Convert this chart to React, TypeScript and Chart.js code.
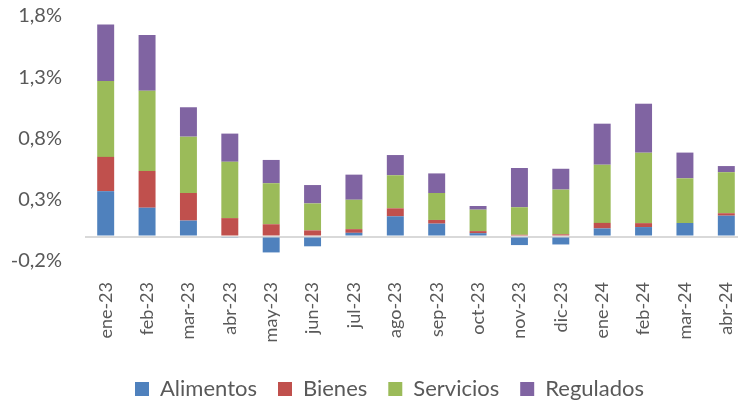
import React, { useEffect, useRef } from 'react';
import { Chart, registerables } from 'chart.js';

Chart.register(...registerables);

const categories = ['ene-23', 'feb-23', 'mar-23', 'abr-23', 'may-23', 'jun-23', 'jul-23', 'ago-23', 'sep-23', 'oct-23', 'nov-23', 'dic-23', 'ene-24', 'feb-24', 'mar-24', 'abr-24'];

const alimentos = [0.37, 0.235, 0.13, -0.01, -0.13, -0.08, 0.03, 0.165, 0.105, 0.027, -0.07, -0.065, 0.066, 0.077, 0.11, 0.17];
const bienes = [0.28, 0.30, 0.225, 0.15, 0.10, 0.05, 0.03, 0.065, 0.03, 0.017, 0.014, 0.018, 0.045, 0.032, 0.0, 0.02];
const servicios = [0.62, 0.655, 0.46, 0.46, 0.335, 0.22, 0.24, 0.27, 0.22, 0.175, 0.225, 0.365, 0.475, 0.575, 0.365, 0.335];
const regulados = [0.46, 0.455, 0.24, 0.23, 0.19, 0.15, 0.205, 0.165, 0.16, 0.03, 0.32, 0.17, 0.335, 0.40, 0.21, 0.05];

const yTicks = [-0.2, 0.3, 0.8, 1.3, 1.8];
const zeroLine = 0;

const FONT = 'Lato';
const TEXT = '#595959';

export default function App() {
  const ref = useRef<HTMLCanvasElement>(null);

  useEffect(() => {
    if (!ref.current) return;
    const legendShift = {
      id: 'legendShift',
      afterLayout(chart: any) {
        const lg = chart.legend;
        if (!lg) return;
        const pad = lg.options.labels.padding;
        lg.left = 135 - pad;
        lg.top += 9;
        lg.bottom += 9;
      },
    };
    const chart = new Chart(ref.current, {
      type: 'bar',
      data: {
        labels: categories,
        datasets: [
          { label: 'Alimentos', data: alimentos, backgroundColor: '#4F81BD' },
          { label: 'Bienes', data: bienes, backgroundColor: '#C0504D' },
          { label: 'Servicios', data: servicios, backgroundColor: '#9BBB59' },
          { label: 'Regulados', data: regulados, backgroundColor: '#8064A2' },
        ],
      },
      options: {
        animation: false,
        responsive: false,
        devicePixelRatio: 1,
        layout: { padding: { top: 16, right: 3, left: 0, bottom: 0 } },
        datasets: { bar: { barPercentage: 0.41, categoryPercentage: 1 } },
        plugins: {
          tooltip: { enabled: false },
          legend: {
            position: 'bottom',
            align: 'start',
            labels: {
              boxWidth: 14,
              boxHeight: 14,
              padding: 21,
              color: TEXT,
              font: { family: FONT, size: 22 },
            },
          },
        },
        scales: {
          x: {
            stacked: true,
            grid: { display: false, drawTicks: false },
            border: { display: false },
            ticks: {
              autoSkip: false,
              maxRotation: 90,
              minRotation: 90,
              padding: 21,
              color: TEXT,
              font: { family: FONT, size: 18 },
            },
            afterFit(scale: any) {
              scale.height = 87;
              scale.paddingLeft = 0;
              scale.paddingRight = 0;
            },
          },
          y: {
            stacked: true,
            min: yTicks[0],
            max: yTicks[yTicks.length - 1],
            grid: {
              drawTicks: false,
              color: (ctx: any) => (ctx.tick && ctx.tick.value === zeroLine ? '#D9D9D9' : 'rgba(0,0,0,0)'),
              lineWidth: 2,
            },
            border: { display: false },
            ticks: {
              padding: 23,
              color: TEXT,
              font: { family: FONT, size: 20 },
              callback: (v: any) => (Number(v) === zeroLine ? '' : Number(v).toFixed(1).replace('.', ',') + '%'),
            },
            afterBuildTicks(scale: any) {
              const vals = [...yTicks, zeroLine].sort((a, b) => a - b);
              scale.ticks = vals.map((v) => ({ value: v }));
            },
            afterFit(scale: any) {
              scale.width = 85;
              scale.paddingTop = 0;
              scale.paddingBottom = 0;
            },
          },
        },
      },
      plugins: [legendShift],
    });
    return () => chart.destroy();
  }, []);

  return (
    <div style={{ position: 'absolute', left: 0, top: 0, width: 738, height: 401, overflow: 'hidden', background: '#fff' }}>
      <canvas ref={ref} width={750} height={401} style={{ display: 'block', width: 750, height: 401 }} />
    </div>
  );
}
